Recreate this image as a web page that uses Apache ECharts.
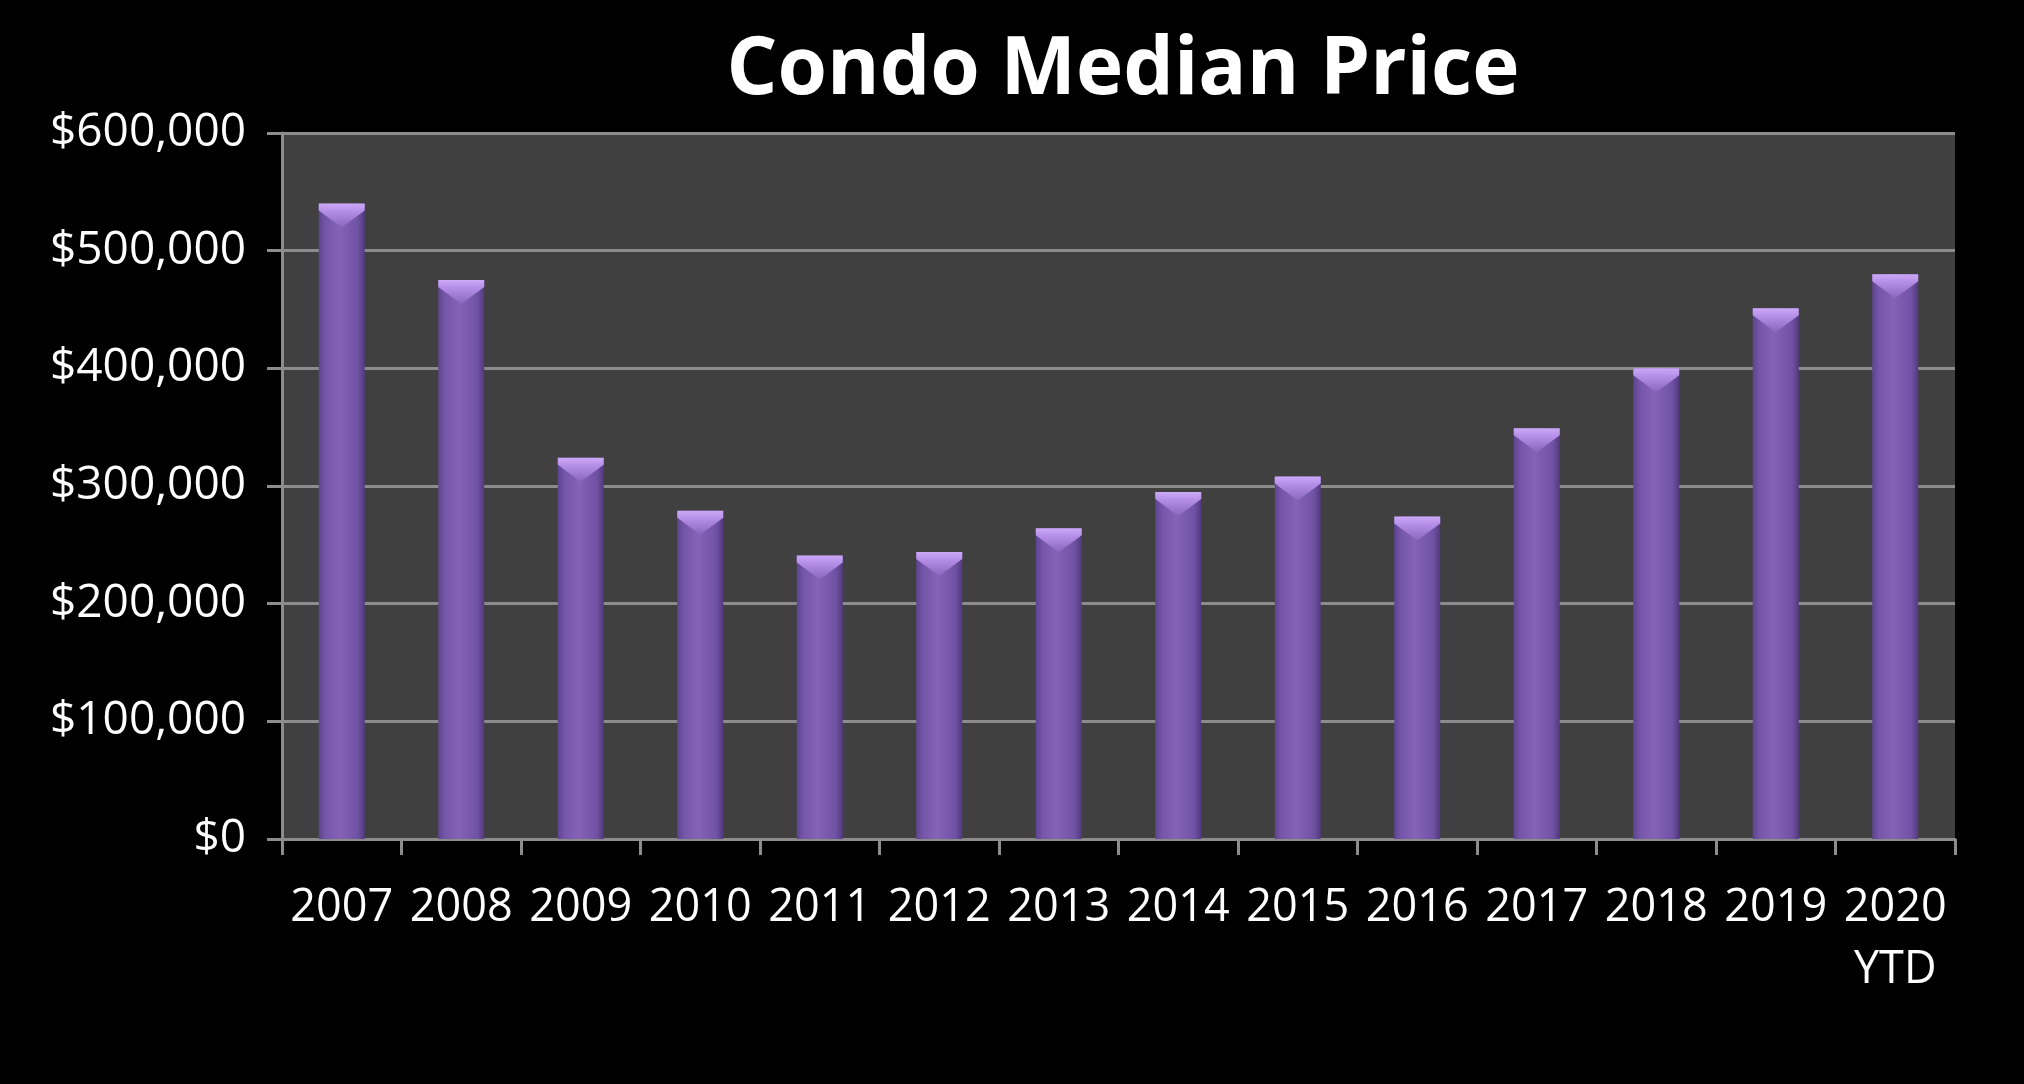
<!DOCTYPE html>
<html>
<head>
<meta charset="utf-8">
<script src="https://cdn.jsdelivr.net/npm/echarts@6/dist/echarts.min.js"></script>
<style>
  html, body { margin: 0; padding: 0; background: #000; }
  #chart { width: 2024px; height: 1084px; }
</style>
</head>
<body>
<div id="chart"></div>
<script>
const years = ['2007', '2008', '2009', '2010', '2011', '2012', '2013', '2014', '2015', '2016', '2017', '2018', '2019', '2020\nYTD'];
const medianPrice = [540000, 475000, 324000, 279000, 241000, 244000, 264000, 295000, 308000, 274000, 349000, 400000, 451000, 480000];
const yTicks = { min: 0, max: 600000, interval: 100000 };

const chart = echarts.init(document.getElementById('chart'));

const gray = '#8c8c8c';
const font = '"Open Sans", "Noto Sans", sans-serif';

chart.setOption({
  backgroundColor: '#000',
  title: {
    text: 'Condo Median Price',
    left: 1118,
    top: 26,
    textAlign: 'center',
    textStyle: {
      color: '#fff',
      fontSize: 80,
      fontWeight: 'bold',
      fontFamily: font,
    },
  },
  grid: {
    left: 282,
    right: 69,
    top: 133,
    bottom: 245,
    show: true,
    backgroundColor: '#404040',
    borderWidth: 0,
  },
  xAxis: {
    type: 'category',
    data: years,
    axisLine: { lineStyle: { color: gray, width: 3 } },
    axisTick: { show: true, length: 16, lineStyle: { color: gray, width: 3 } },
    axisLabel: {
      interval: 0,
      color: '#fff',
      fontSize: 45,
      fontFamily: font,
      margin: 38,
      lineHeight: 62,
    },
  },
  yAxis: {
    type: 'value',
    min: yTicks.min,
    max: yTicks.max,
    interval: yTicks.interval,
    axisLine: { show: true, lineStyle: { color: gray, width: 3 } },
    axisTick: { show: true, length: 15, lineStyle: { color: gray, width: 3 } },
    splitLine: { lineStyle: { color: gray, width: 3 } },
    axisLabel: {
      color: '#fff',
      fontSize: 46,
      fontFamily: font,
      margin: 36,
      formatter: function (v) {
        return '$' + v.toLocaleString('en-US');
      },
    },
  },
  series: [
    {
      type: 'bar',
      data: medianPrice,
      barWidth: 46,
      itemStyle: {
        shadowColor: 'rgba(0,0,0,0.45)',
        shadowBlur: 8,
        shadowOffsetX: 3,
        color: {
          type: 'linear',
          x: 0, y: 0, x2: 1, y2: 0,
          colorStops: [
            { offset: 0, color: '#5e4490' },
            { offset: 0.15, color: '#7556a8' },
            { offset: 0.45, color: '#8563b6' },
            { offset: 0.85, color: '#7052a4' },
            { offset: 1, color: '#52397f' },
          ],
        },
      },
      z: 2,
    },
    {
      // light bevel on the top of each bar
      type: 'pictorialBar',
      data: medianPrice,
      symbol: 'path://M0,0 L46,0 L46,7 L23,24 L0,7 Z',
      symbolSize: [46, 24],
      symbolPosition: 'end',
      barGap: '-100%',
      itemStyle: {
        color: {
          type: 'linear',
          x: 0, y: 0, x2: 0, y2: 1,
          colorStops: [
            { offset: 0, color: '#cda9f7' },
            { offset: 0.35, color: '#b38de6' },
            { offset: 1, color: '#8a66bd' },
          ],
        },
      },
      z: 3,
      silent: true,
    },
  ],
});
</script>
</body>
</html>
